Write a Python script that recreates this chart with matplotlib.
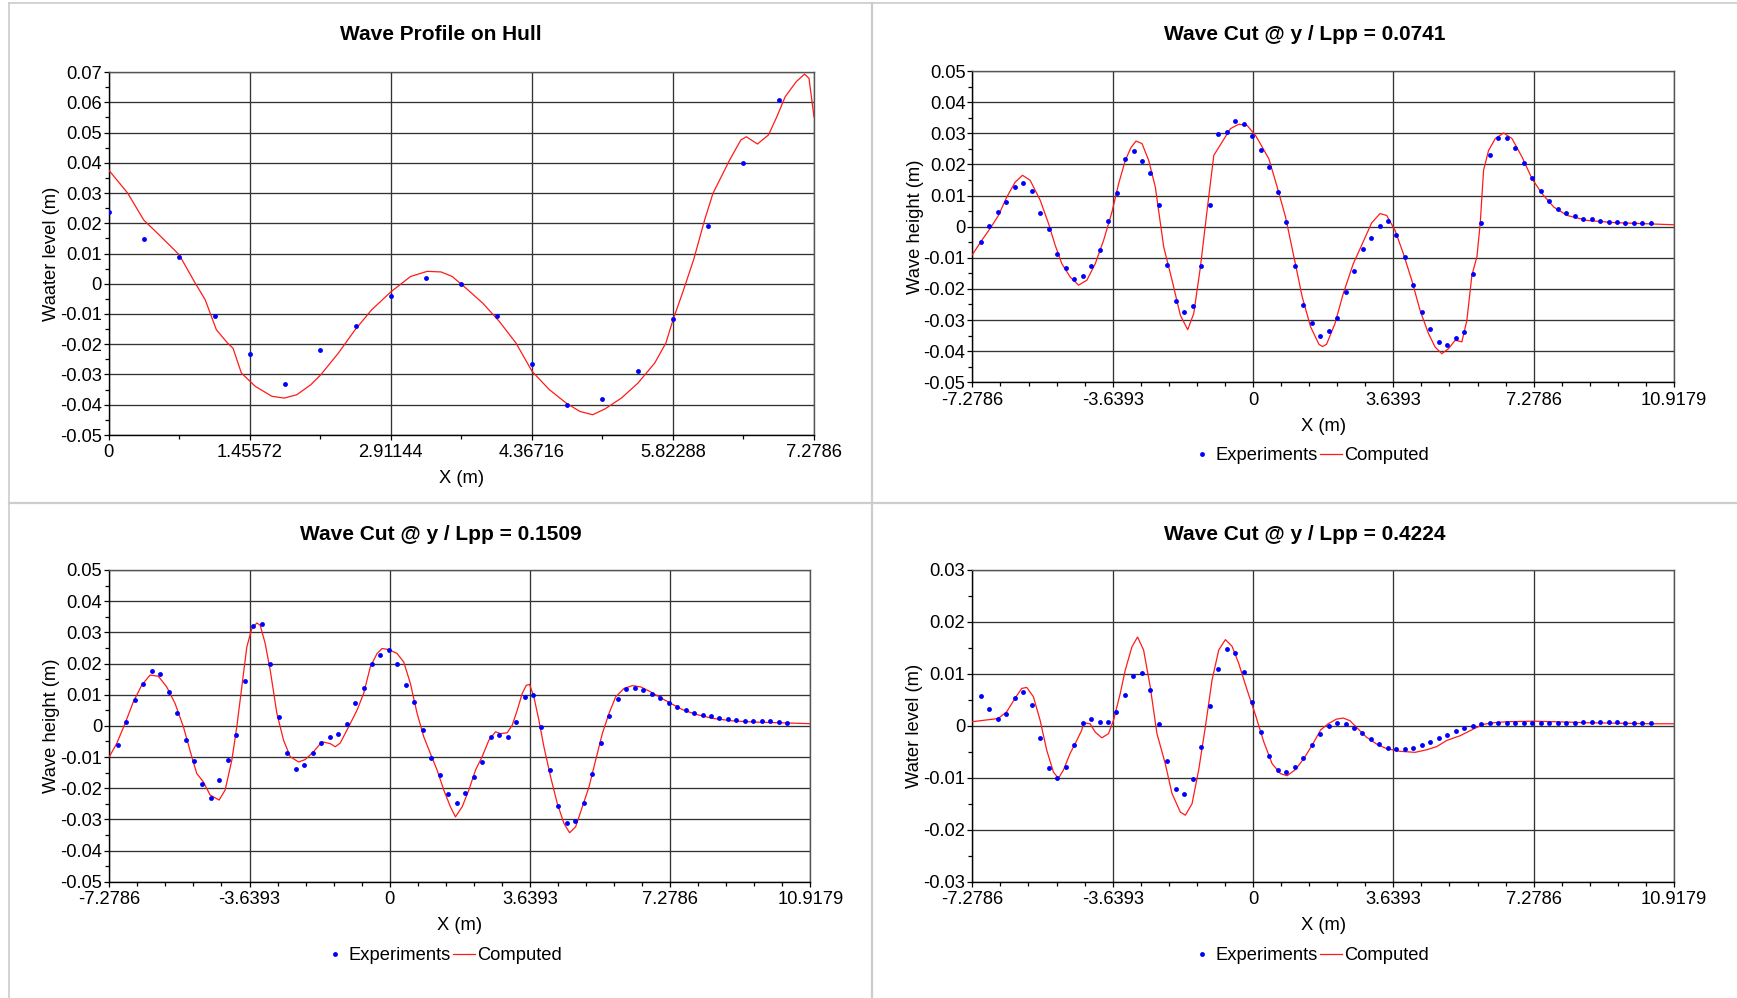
import matplotlib
matplotlib.use("Agg")
import matplotlib.pyplot as plt
from matplotlib.lines import Line2D
from matplotlib.ticker import FixedLocator, FixedFormatter, MultipleLocator

plt.rcParams['font.family'] = ['Liberation Sans', 'DejaVu Sans']

# ---------------- DATA ----------------
# Panel 1: Wave profile on hull
hull_exp_x = [0.0, 0.364, 0.728, 1.092, 1.456, 1.820, 2.184, 2.548, 2.912, 3.275,
              3.639, 4.003, 4.367, 4.731, 5.095, 5.459, 5.823, 6.187, 6.551, 6.915]
hull_exp_y = [0.0238, 0.0148, 0.0089, -0.0106, -0.0231, -0.0330, -0.0220, -0.0141, -0.0041, 0.0019,
              -0.0001, -0.0106, -0.0266, -0.0402, -0.0382, -0.0289, -0.0118, 0.0192, 0.0400, 0.0609]
hull_cmp_x = [0.0, 0.195, 0.361, 0.538, 0.727, 0.882, 0.996, 1.111, 1.226, 1.283, 1.369, 1.512,
              1.684, 1.810, 1.941, 2.085, 2.188, 2.371, 2.543, 2.714, 2.915, 3.115, 3.287, 3.430,
              3.545, 3.688, 3.860, 4.032, 4.203, 4.370, 4.547, 4.719, 4.862, 4.994, 5.120, 5.291,
              5.463, 5.635, 5.750, 5.824, 5.921, 6.036, 6.150, 6.236, 6.322, 6.408, 6.523, 6.580,
              6.695, 6.809, 6.895, 6.981, 7.095, 7.181, 7.227, 7.2786]
hull_cmp_y = [0.0376, 0.0300, 0.0211, 0.0156, 0.0096, 0.0008, -0.0053, -0.0152, -0.0196, -0.0213,
              -0.0295, -0.0339, -0.0372, -0.0378, -0.0367, -0.0334, -0.0301, -0.0229, -0.0152,
              -0.0086, -0.0026, 0.0024, 0.0041, 0.0039, 0.0024, -0.0015, -0.0064, -0.0125, -0.0196,
              -0.0290, -0.0350, -0.0394, -0.0422, -0.0433, -0.0414, -0.0378, -0.0328, -0.0262,
              -0.0196, -0.0119, -0.0031, 0.0079, 0.0211, 0.0299, 0.0354, 0.0409, 0.0475, 0.0486,
              0.0462, 0.0492, 0.0552, 0.0618, 0.0668, 0.0693, 0.0679, 0.0552]

# Experimental stations shared by the three wave cuts
cut_exp_x = [-7.06, -6.84, -6.62, -6.40, -6.18, -5.96, -5.74, -5.52, -5.30, -5.08,
             -4.86, -4.64, -4.42, -4.20, -3.98, -3.76, -3.54, -3.32, -3.10, -2.88,
             -2.66, -2.44, -2.22, -2.00, -1.78, -1.56, -1.34, -1.12, -0.90, -0.68,
             -0.46, -0.24, -0.02, 0.20, 0.42, 0.64, 0.86, 1.08, 1.30, 1.52,
             1.74, 1.96, 2.18, 2.40, 2.62, 2.84, 3.06, 3.28, 3.50, 3.72,
             3.94, 4.16, 4.38, 4.60, 4.82, 5.04, 5.26, 5.48, 5.70, 5.92,
             6.14, 6.36, 6.58, 6.80, 7.02, 7.24, 7.46, 7.68, 7.90, 8.12,
             8.34, 8.56, 8.78, 9.00, 9.22, 9.44, 9.66, 9.88, 10.10, 10.32]

# Panel 2: y/Lpp = 0.0741
cut1_exp_y = [-0.0050, 0.0001, 0.0047, 0.0080, 0.0128, 0.0140, 0.0113, 0.0045, -0.0007, -0.0087,
              -0.0132, -0.0169, -0.0160, -0.0125, -0.0076, 0.0018, 0.0109, 0.0218, 0.0242, 0.0212,
              0.0172, 0.0071, -0.0123, -0.0238, -0.0274, -0.0254, -0.0127, 0.0071, 0.0298, 0.0303,
              0.0338, 0.0330, 0.0290, 0.0247, 0.0193, 0.0111, 0.0015, -0.0125, -0.0251, -0.0310,
              -0.0351, -0.0334, -0.0293, -0.0211, -0.0141, -0.0072, -0.0036, 0.0003, 0.0019, -0.0028,
              -0.0096, -0.0188, -0.0275, -0.0329, -0.0370, -0.0379, -0.0359, -0.0339, -0.0152, 0.0012,
              0.0229, 0.0284, 0.0286, 0.0253, 0.0206, 0.0157, 0.0116, 0.0082, 0.0058, 0.0044,
              0.0034, 0.0026, 0.0024, 0.0017, 0.0016, 0.0014, 0.0013, 0.0012, 0.0011, 0.0011]
cut1_cmp_x = [-7.2786, -7.036, -6.820, -6.603, -6.387, -6.170, -5.980, -5.781, -5.521, -5.304,
              -5.131, -4.958, -4.742, -4.525, -4.309, -4.092, -3.876, -3.659, -3.486, -3.313,
              -3.166, -3.036, -2.880, -2.707, -2.534, -2.317, -2.101, -1.884, -1.694, -1.538,
              -1.365, -1.192, -1.018, -0.802, -0.585, -0.369, -0.152, 0.064, 0.237, 0.410,
              0.627, 0.843, 1.060, 1.276, 1.493, 1.709, 1.800, 1.906, 2.123, 2.340,
              2.600, 2.816, 3.076, 3.293, 3.466, 3.683, 3.899, 4.116, 4.332, 4.549,
              4.723, 4.896, 5.069, 5.242, 5.416, 5.546, 5.676, 5.806, 5.892, 5.979,
              6.109, 6.282, 6.499, 6.715, 6.975, 7.235, 7.495, 7.799, 8.145, 8.665,
              9.358, 10.051, 10.9179]
cut1_cmp_y = [-0.0090, -0.0044, -0.0006, 0.0036, 0.0095, 0.0143, 0.0165, 0.0149, 0.0085, 0.0010,
              -0.0060, -0.0119, -0.0162, -0.0188, -0.0172, -0.0119, -0.0044, 0.0047, 0.0138, 0.0213,
              0.0254, 0.0275, 0.0267, 0.0213, 0.0127, -0.0065, -0.0172, -0.0285, -0.0331, -0.0279,
              -0.0130, 0.0052, 0.0229, 0.0272, 0.0315, 0.0329, 0.0325, 0.0293, 0.0256, 0.0218,
              0.0127, 0.0031, -0.0097, -0.0226, -0.0322, -0.0378, -0.0385, -0.0378, -0.0312, -0.0215,
              -0.0119, -0.0060, 0.0012, 0.0042, 0.0036, -0.0012, -0.0087, -0.0172, -0.0269, -0.0343,
              -0.0387, -0.0408, -0.0392, -0.0365, -0.0370, -0.0301, -0.0156, -0.0097, 0.0010, 0.0181,
              0.0245, 0.0283, 0.0301, 0.0283, 0.0224, 0.0154, 0.0106, 0.0063, 0.0036, 0.0020,
              0.0013, 0.0010, 0.0006]

# Panel 3: y/Lpp = 0.1509
cut2_exp_y = [-0.0060, 0.0011, 0.0082, 0.0134, 0.0175, 0.0166, 0.0109, 0.0041, -0.0046, -0.0112,
              -0.0187, -0.0230, -0.0173, -0.0108, -0.0028, 0.0144, 0.0321, 0.0328, 0.0197, 0.0027,
              -0.0087, -0.0140, -0.0127, -0.0086, -0.0056, -0.0036, -0.0025, 0.0006, 0.0072, 0.0122,
              0.0197, 0.0226, 0.0242, 0.0199, 0.0132, 0.0077, -0.0014, -0.0103, -0.0157, -0.0220,
              -0.0247, -0.0216, -0.0164, -0.0117, -0.0036, -0.0028, -0.0035, 0.0012, 0.0093, 0.0098,
              -0.0005, -0.0142, -0.0256, -0.0313, -0.0304, -0.0246, -0.0154, -0.0055, 0.0030, 0.0087,
              0.0118, 0.0121, 0.0116, 0.0103, 0.0088, 0.0074, 0.0060, 0.0050, 0.0041, 0.0034,
              0.0030, 0.0024, 0.0021, 0.0018, 0.0017, 0.0016, 0.0015, 0.0014, 0.0011, 0.0010]
cut2_cmp_x = [-7.2786, -7.088, -6.871, -6.655, -6.438, -6.221, -6.005, -5.788, -5.572, -5.355,
              -5.138, -5.008, -4.835, -4.662, -4.428, -4.272, -4.098, -3.969, -3.839, -3.709,
              -3.579, -3.449, -3.362, -3.232, -3.102, -2.929, -2.755, -2.582, -2.365, -2.192,
              -1.976, -1.759, -1.543, -1.413, -1.283, -1.066, -0.849, -0.676, -0.503, -0.329,
              -0.199, -0.026, 0.191, 0.364, 0.537, 0.711, 0.884, 1.057, 1.231, 1.404,
              1.577, 1.707, 1.880, 2.054, 2.227, 2.400, 2.574, 2.747, 2.877, 3.050,
              3.180, 3.310, 3.440, 3.544, 3.631, 3.743, 3.873, 4.003, 4.177, 4.350,
              4.523, 4.670, 4.826, 5.000, 5.173, 5.346, 5.519, 5.693, 5.866, 6.083,
              6.299, 6.516, 6.776, 7.036, 7.296, 7.599, 7.946, 8.379, 8.899, 9.506,
              10.372, 10.9179]
cut2_cmp_y = [-0.0099, -0.0057, 0.0007, 0.0077, 0.0130, 0.0163, 0.0159, 0.0125, 0.0072, -0.0003,
              -0.0099, -0.0153, -0.0180, -0.0222, -0.0238, -0.0206, -0.0110, -0.0003, 0.0125, 0.0253,
              0.0312, 0.0330, 0.0323, 0.0264, 0.0179, 0.0040, -0.0046, -0.0099, -0.0116, -0.0108,
              -0.0083, -0.0051, -0.0057, -0.0067, -0.0055, -0.0003, 0.0050, 0.0104, 0.0189, 0.0232,
              0.0248, 0.0245, 0.0232, 0.0205, 0.0136, 0.0040, -0.0035, -0.0089, -0.0142, -0.0206,
              -0.0260, -0.0292, -0.0260, -0.0206, -0.0142, -0.0099, -0.0046, -0.0019, -0.0025, -0.0022,
              0.0002, 0.0050, 0.0104, 0.0130, 0.0133, 0.0093, 0.0018, -0.0067, -0.0164, -0.0249,
              -0.0313, -0.0343, -0.0324, -0.0260, -0.0196, -0.0110, -0.0025, 0.0040, 0.0093, 0.0120,
              0.0129, 0.0125, 0.0109, 0.0090, 0.0072, 0.0052, 0.0037, 0.0024, 0.0016, 0.0012,
              0.0009, 0.0007]

# Panel 4: y/Lpp = 0.4224
cut3_exp_y = [0.0057, 0.0033, 0.0014, 0.0023, 0.0053, 0.0066, 0.0040, -0.0023, -0.0082, -0.0101,
              -0.0080, -0.0036, 0.0005, 0.0014, 0.0007, 0.0008, 0.0026, 0.0060, 0.0096, 0.0101,
              0.0069, 0.0004, -0.0068, -0.0121, -0.0131, -0.0103, -0.0040, 0.0039, 0.0109, 0.0147,
              0.0141, 0.0103, 0.0046, -0.0011, -0.0058, -0.0085, -0.0089, -0.0080, -0.0062, -0.0037,
              -0.0015, 0.0000, 0.0006, 0.0004, -0.0004, -0.0014, -0.0025, -0.0035, -0.0043, -0.0045,
              -0.0044, -0.0042, -0.0037, -0.0032, -0.0024, -0.0017, -0.0010, -0.0004, 0.0000, 0.0004,
              0.0006, 0.0006, 0.0006, 0.0005, 0.0005, 0.0005, 0.0005, 0.0006, 0.0006, 0.0006,
              0.0006, 0.0007, 0.0007, 0.0007, 0.0007, 0.0007, 0.0006, 0.0006, 0.0006, 0.0006]
cut3_cmp_x = [-7.2786, -6.950, -6.612, -6.387, -6.170, -5.997, -5.867, -5.694, -5.521, -5.348,
              -5.175, -5.045, -4.915, -4.742, -4.568, -4.439, -4.395, -4.222, -4.092, -3.919,
              -3.746, -3.616, -3.443, -3.313, -3.140, -2.993, -2.837, -2.664, -2.490, -2.274,
              -2.101, -1.884, -1.754, -1.581, -1.408, -1.235, -1.062, -0.888, -0.715, -0.542,
              -0.369, -0.152, 0.064, 0.281, 0.497, 0.713, 0.887, 1.103, 1.320, 1.536,
              1.753, 1.950, 2.166, 2.340, 2.513, 2.686, 2.946, 3.206, 3.466, 3.813,
              4.203, 4.506, 4.766, 5.026, 5.372, 5.719, 5.979, 6.239, 6.586, 7.279,
              7.799, 8.665, 9.532, 10.398, 10.9179]
cut3_cmp_y = [0.0008, 0.0011, 0.0014, 0.0027, 0.0053, 0.0072, 0.0074, 0.0056, 0.0011, -0.0047,
              -0.0089, -0.0101, -0.0085, -0.0053, -0.0028, -0.0008, 0.0006, 0.0004, -0.0012, -0.0023,
              -0.0015, 0.0011, 0.0062, 0.0107, 0.0152, 0.0171, 0.0146, 0.0075, -0.0015, -0.0073,
              -0.0130, -0.0166, -0.0172, -0.0150, -0.0085, -0.0002, 0.0088, 0.0146, 0.0166, 0.0153,
              0.0120, 0.0069, 0.0021, -0.0031, -0.0073, -0.0092, -0.0096, -0.0084, -0.0063, -0.0037,
              -0.0008, 0.0004, 0.0013, 0.0015, 0.0010, -0.0003, -0.0022, -0.0035, -0.0044, -0.0049,
              -0.0051, -0.0046, -0.0040, -0.0028, -0.0019, -0.0006, 0.0003, 0.0006, 0.0008, 0.0009,
              0.0008, 0.0006, 0.0005, 0.0004, 0.0004]

# Axis ticks / labels
hull_xticks = [0.0, 1.45572, 2.91144, 4.36716, 5.82288, 7.2786]
hull_xticklabels = ["0", "1.45572", "2.91144", "4.36716", "5.82288", "7.2786"]
hull_yticks = [-0.05, -0.04, -0.03, -0.02, -0.01, 0.0, 0.01, 0.02, 0.03, 0.04, 0.05, 0.06, 0.07]
hull_yticklabels = ["-0.05", "-0.04", "-0.03", "-0.02", "-0.01", "0", "0.01", "0.02", "0.03",
                    "0.04", "0.05", "0.06", "0.07"]
cut_xticks = [-7.2786, -3.6393, 0.0, 3.6393, 7.2786, 10.9179]
cut_xticklabels = ["-7.2786", "-3.6393", "0", "3.6393", "7.2786", "10.9179"]
cut5_yticks = [-0.05, -0.04, -0.03, -0.02, -0.01, 0.0, 0.01, 0.02, 0.03, 0.04, 0.05]
cut5_yticklabels = ["-0.05", "-0.04", "-0.03", "-0.02", "-0.01", "0", "0.01", "0.02", "0.03",
                    "0.04", "0.05"]
cut3_yticks = [-0.03, -0.02, -0.01, 0.0, 0.01, 0.02, 0.03]
cut3_yticklabels = ["-0.03", "-0.02", "-0.01", "0", "0.01", "0.02", "0.03"]

titles = ["Wave Profile on Hull", "Wave Cut @ y / Lpp = 0.0741",
          "Wave Cut @ y / Lpp = 0.1509", "Wave Cut @ y / Lpp = 0.4224"]
ylabels = ["Waater level (m)", "Wave height (m)", "Wave height (m)", "Water level (m)"]
xlabel = "X (m)"
legend_labels = ["Experiments", "Computed"]

# ---------------- FIGURE ----------------
W, H = 1737, 998
fig = plt.figure(figsize=(W / 100, H / 100), dpi=100)
fig.patch.set_facecolor("white")

def px_axes(l, t, r, b):
    return fig.add_axes([l / W, 1 - b / H, (r - l) / W, (b - t) / H])

EXP_C = "#0000ff"
CMP_C = "#ff1a1a"
FS = 13.2
TFS = 15

def style(ax, xlim, ylim, xt, xtl, yt, ytl, xminor, yminor, ylabel):
    ax.set_xlim(*xlim)
    ax.set_ylim(*ylim)
    ax.xaxis.set_major_locator(FixedLocator(xt))
    ax.xaxis.set_major_formatter(FixedFormatter(xtl))
    ax.yaxis.set_major_locator(FixedLocator(yt))
    ax.yaxis.set_major_formatter(FixedFormatter(ytl))
    ax.xaxis.set_minor_locator(MultipleLocator(xminor))
    ax.yaxis.set_minor_locator(MultipleLocator(yminor))
    ax.grid(True, which="major", color="#333333", linewidth=0.95)
    ax.set_axisbelow(True)
    ax.tick_params(which="both", direction="out", length=3.5, width=0.9, colors="black",
                   labelsize=FS)
    ax.tick_params(axis="y", which="major", pad=1.5)
    ax.tick_params(axis="x", which="major", pad=3.2)
    ax.tick_params(which="minor", length=3)
    for s in ("left", "bottom"):
        ax.spines[s].set_color("black")
        ax.spines[s].set_linewidth(1.0)
    for s in ("top", "right"):
        ax.spines[s].set_color("#555555")
        ax.spines[s].set_linewidth(1.0)
    ax.set_xlabel(xlabel, fontsize=FS, labelpad=6.5)
    ax.set_ylabel(ylabel, fontsize=FS, labelpad=0)

def plot_series(ax, ex, ey, cx, cy):
    ax.plot(cx, cy, color=CMP_C, linewidth=0.9, zorder=3)
    ax.plot(ex, ey, linestyle="none", marker="o", markersize=3.5, markeredgewidth=0,
            color=EXP_C, zorder=4)

# Panel 1
ax1 = px_axes(108.7, 72, 814, 435)
plot_series(ax1, hull_exp_x, hull_exp_y, hull_cmp_x, hull_cmp_y)
style(ax1, (0, 7.2786), (-0.05, 0.07), hull_xticks, hull_xticklabels,
      hull_yticks, hull_yticklabels, 0.72786, 0.005, ylabels[0])

# Panel 2
ax2 = px_axes(972.4, 71, 1674, 382.3)
plot_series(ax2, cut_exp_x, cut1_exp_y, cut1_cmp_x, cut1_cmp_y)
style(ax2, (-7.2786, 10.9179), (-0.05, 0.05), cut_xticks, cut_xticklabels,
      cut5_yticks, cut5_yticklabels, 0.72786, 0.005, ylabels[1])

# Panel 3
ax3 = px_axes(109.3, 570, 810.3, 881.7)
plot_series(ax3, cut_exp_x, cut2_exp_y, cut2_cmp_x, cut2_cmp_y)
style(ax3, (-7.2786, 10.9179), (-0.05, 0.05), cut_xticks, cut_xticklabels,
      cut5_yticks, cut5_yticklabels, 0.72786, 0.005, ylabels[2])

# Panel 4
ax4 = px_axes(972.3, 570, 1674, 881.7)
plot_series(ax4, cut_exp_x, cut3_exp_y, cut3_cmp_x, cut3_cmp_y)
style(ax4, (-7.2786, 10.9179), (-0.03, 0.03), cut_xticks, cut_xticklabels,
      cut3_yticks, cut3_yticklabels, 0.72786, 0.005, ylabels[3])

# Titles (centred on each panel)
title_pos = [(440.5, 35), (1304.5, 35), (440.5, 535), (1304.5, 535)]
for (tx, ty), t in zip(title_pos, titles):
    fig.text(tx / W, 1 - ty / H, t, ha="center", va="center", fontsize=TFS, fontweight="bold")

# Legends
handles = [Line2D([], [], linestyle="none", marker="o", markersize=3.5, markeredgewidth=0,
                  color=EXP_C),
           Line2D([], [], color=CMP_C, linewidth=0.9)]
for (lx, ly) in [(1310, 456), (443, 956), (1310, 956)]:
    fig.legend(handles, legend_labels, loc="center", bbox_to_anchor=(lx / W, 1 - ly / H),
               ncol=2, frameon=False, fontsize=FS, handlelength=1.2, handletextpad=0.15,
               columnspacing=0.1, borderpad=0, borderaxespad=0)

# Panel frames (light gray separators)
sep_c = "#cccccc"
fig.add_artist(Line2D([9.3 / W, 9.3 / W], [0, 1 - 3.3 / H], color=sep_c, linewidth=1.2,
                      transform=fig.transFigure))
fig.add_artist(Line2D([9.3 / W, 1], [1 - 3.3 / H, 1 - 3.3 / H], color=sep_c, linewidth=1.2,
                      transform=fig.transFigure))
fig.add_artist(Line2D([872.3 / W, 872.3 / W], [0, 1 - 3.3 / H], color=sep_c, linewidth=1.6,
                      transform=fig.transFigure))
fig.add_artist(Line2D([9.3 / W, 1], [1 - 502.7 / H, 1 - 502.7 / H], color=sep_c, linewidth=1.6,
                      transform=fig.transFigure))

fig.savefig("out.png", dpi=100, facecolor="white")
